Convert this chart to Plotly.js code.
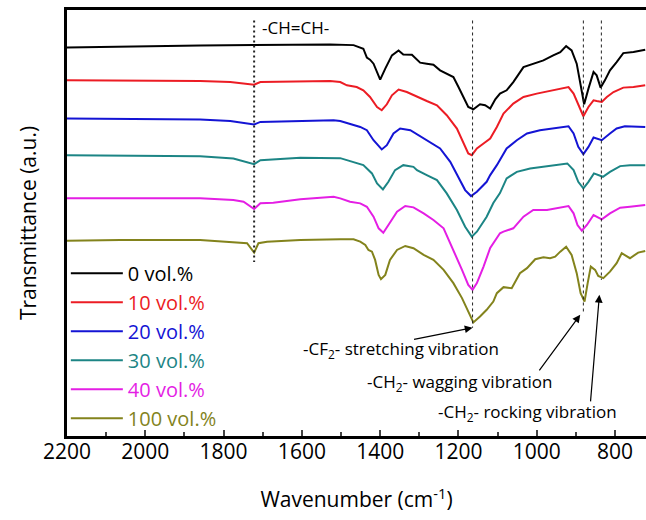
<!DOCTYPE html>
<html>
<head>
<meta charset="utf-8">
<script src="https://cdn.plot.ly/plotly-3.0.1.min.js"></script>
<style>html,body{margin:0;padding:0;background:#fff;}#chart{width:646px;height:520px;}</style>
</head>
<body>
<div id="chart"></div>
<script>
// Wavenumber (cm-1) and transmittance (a.u., offset) per series
const wn0 = [2200,2064,1860,1722,1528,1468,1443,1434,1426,1417,1400,1387,1370,1353,1341,1319,1298,1281,1264,1247,1230,1213,1200,1187,1175,1162,1145,1132,1119,1106,1094,1077,1060,1034,1009,983,958,940,925,911,898,889,879,868,855,847,837,826,813,796,779,753,723];
const t0  = [391,392,393,393.5,394,393.3,389.7,380.7,378.7,374.7,358.7,369.7,383,388,384,383.7,375.7,374.7,373.7,368,364.7,361.3,351.3,341.3,331.3,329,334,333,329.7,339,344.7,348,356.3,371.3,374.7,378,383,386.3,392.3,388,374.7,354.7,334,349.7,366.3,363,350.7,358,368,376.3,385.3,386.3,388.7];

const wn10 = [2200,1860,1783,1722,1706,1528,1502,1485,1460,1443,1426,1408,1396,1383,1370,1353,1332,1306,1281,1255,1230,1204,1187,1175,1166,1153,1136,1119,1102,1085,1060,1034,1000,966,940,919,906,894,881,868,855,847,834,821,804,779,753,723];
const t10  = [358,357.3,356.3,353.7,356.3,357.3,356.3,353,351.3,348,341.3,331.3,328,334,343,348.7,346.3,341.3,337.3,333,323,309.7,294.7,284.7,283,289.7,294.7,299.7,311.3,324.7,334.7,341.3,344.7,347.3,349,351.3,344.7,333,322,331.3,338,337.3,336.3,341.3,346.3,350.7,351.3,353];

const wn20 = [2200,1860,1783,1722,1706,1604,1519,1502,1477,1451,1434,1417,1396,1383,1366,1349,1323,1298,1272,1247,1221,1200,1183,1168,1153,1128,1119,1102,1077,1051,1025,992,958,919,906,894,881,868,855,847,834,813,796,775,723];
const t20  = [319.7,318.7,317.3,313.7,316.3,317.3,318,317.3,314,311.3,308,298,288.7,293,304.7,309.7,308,302,296.3,289.7,276.3,261.3,248,242,246.3,256.3,263,273,289.7,298,304.7,308,309.7,312,304.7,291.3,284,291.3,300.7,299.7,298,304.7,309.7,312,311.3];

const wn30 = [2200,1860,1775,1740,1722,1706,1604,1502,1468,1443,1421,1408,1393,1379,1362,1341,1315,1306,1281,1255,1230,1204,1183,1166,1153,1128,1111,1094,1077,1051,1017,983,949,922,906,894,881,868,854,843,831,813,787,762,723];
const t30  = [283,282,279.7,276.3,274,278,280.3,280,276.3,273,264.7,254.7,248.7,256.3,268,273,271.3,268,263,258,244.7,228,211.3,201.3,206.3,221.3,235,245,259.7,266.3,269.7,271.3,273,274.7,268,256.3,249.7,256.3,264.7,263,261.3,266.3,272,273,273];

const wn40 = [2200,1860,1775,1749,1722,1706,1673,1604,1519,1502,1477,1451,1434,1417,1404,1392,1379,1357,1336,1315,1289,1264,1238,1213,1191,1175,1164,1153,1136,1119,1094,1085,1060,1034,1009,974,949,919,906,896,885,872,855,834,813,787,762,723];
const t40  = [239.7,239.7,238,236.3,229,234.7,235.3,238.7,241.3,239.7,236.3,234.7,231.3,221.3,209.7,205.3,213,226.3,232,230.7,224.7,218,209.7,188,168,153,148,154.7,171.3,190,204.7,206.3,209.7,221.3,228,228,229.7,232,224.7,213,207.3,213,223,218.7,224.7,230.3,231.3,233];

const wn100 = [2200,2064,1860,1740,1722,1711,1689,1604,1502,1468,1451,1438,1430,1421,1413,1404,1398,1387,1375,1357,1336,1315,1289,1264,1238,1213,1191,1175,1162,1145,1128,1111,1102,1085,1064,1043,1025,1004,983,966,953,940,925,911,898,888,878,870,862,851,843,830,813,796,783,762,741,723];
const t100  = [197.3,198,198,194.7,185.3,194.7,196.3,198,198.7,198.7,196.3,193,188,186.3,178,163,158.7,163,178,188,192,189.7,183,178,168,154.7,139.7,126.3,115.3,121.3,128,136.3,144.7,150.7,149.7,164.7,169.7,178.7,180.7,179.7,181.3,186.3,191.3,183,164.7,144.7,136.3,154.7,171.3,168,162,159.7,166.3,174.7,184.7,179.7,185.3,187];

const seriesNames = ['0 vol.%','10 vol.%','20 vol.%','30 vol.%','40 vol.%','100 vol.%'];
const seriesColors = ['#000000','#ec1c24','#1414d4','#1c8585','#e41ee4','#83831c'];
const seriesX = [wn0, wn10, wn20, wn30, wn40, wn100];
const seriesY = [t0, t10, t20, t30, t40, t100];

// Band positions (cm-1) for reference lines
const bandCH = 1722, bandCF2 = 1164, bandWag = 881, bandRock = 835;
const xTicks = [2200,2000,1800,1600,1400,1200,1000,800];

const traces = seriesNames.map((n, i) => ({
  x: seriesX[i], y: seriesY[i], type: 'scatter', mode: 'lines',
  name: '<span style="color:' + seriesColors[i] + '">' + n + '</span>',
  legendgroup: 'g' + i,
  line: {color: seriesColors[i], width: 2}
}));

const ann = {font: {family: 'Open Sans', size: 17, color: '#000'}};
const layout = {
  width: 646, height: 520,
  margin: {l: 67, r: 0, t: 9.5, b: 83.5},
  paper_bgcolor: '#fff', plot_bgcolor: '#fff',
  font: {family: 'Open Sans', color: '#000'},
  showlegend: true,
  legend: {x: -0.002, y: 0.428, xanchor: 'left', yanchor: 'top', bgcolor: 'rgba(0,0,0,0)',
           font: {family: 'Open Sans', size: 20}, tracegroupgap: 0, itemwidth: 52},
  xaxis: {range: [2200, 721], tickvals: xTicks, ticks: 'inside', ticklen: 6, tickwidth: 2,
          ticklabelstandoff: -5,
          showline: true, linewidth: 3, linecolor: '#000', mirror: true, showgrid: false, zeroline: false,
          minor: {dtick: 100, ticks: 'inside', ticklen: 4, tickwidth: 2, showgrid: false},
          tickfont: {family: 'Open Sans', size: 21},
          title: {text: 'Wavenumber (cm<sup>-1</sup>)', font: {family: 'Open Sans', size: 21}, standoff: 29}},
  yaxis: {range: [1.5, 428.5], showline: true, linewidth: 3, linecolor: '#000', showticklabels: false,
          ticks: '', showgrid: false, zeroline: false,
          title: {text: 'Transmittance (a.u.)', font: {family: 'Open Sans', size: 21}, standoff: 22}},
  shapes: [
    {type: 'line', xref: 'x', yref: 'y', x0: bandCH, x1: bandCH, y0: 418, y1: 176, line: {color: '#222', width: 2, dash: '2px,3px'}},
    {type: 'line', xref: 'x', yref: 'y', x0: bandCF2, x1: bandCF2, y0: 418, y1: 110, line: {color: '#222', width: 1, dash: '3px,3px'}},
    {type: 'line', xref: 'x', yref: 'y', x0: bandWag, x1: bandWag, y0: 418, y1: 126, line: {color: '#222', width: 1, dash: '3px,3px'}},
    {type: 'line', xref: 'x', yref: 'y', x0: bandRock, x1: bandRock, y0: 418, y1: 158, line: {color: '#222', width: 1, dash: '3px,3px'}}
  ],
  annotations: [
    Object.assign({x: 1616, y: 411, xref: 'x', yref: 'y', text: '-CH=CH-', showarrow: false}, ann),
    Object.assign({x: 1346, y: 88, xref: 'x', yref: 'y', text: '-CF<sub>2</sub>- stretching vibration', showarrow: false}, ann),
    Object.assign({x: 1198, y: 55, xref: 'x', yref: 'y', text: '-CH<sub>2</sub>- wagging vibration', showarrow: false}, ann),
    Object.assign({x: 1023, y: 25, xref: 'x', yref: 'y', text: '-CH<sub>2</sub>- rocking vibration', showarrow: false}, ann),
    {x: 1164, y: 110, xref: 'x', yref: 'y', text: '', showarrow: true, ax: -60, ay: 12, arrowhead: 2, arrowsize: 1.3, arrowwidth: 1.2, arrowcolor: '#000', standoff: 0},
    {x: 889, y: 123, xref: 'x', yref: 'y', text: '', showarrow: true, ax: -42, ay: 57, arrowhead: 2, arrowsize: 1.3, arrowwidth: 1.2, arrowcolor: '#000', standoff: 0},
    {x: 840, y: 143, xref: 'x', yref: 'y', text: '', showarrow: true, ax: -9, ay: 108, arrowhead: 2, arrowsize: 1.3, arrowwidth: 1.2, arrowcolor: '#000', standoff: 0}
  ]
};

Plotly.newPlot('chart', traces, layout, {staticPlot: true, displayModeBar: false});
</script>
</body>
</html>
